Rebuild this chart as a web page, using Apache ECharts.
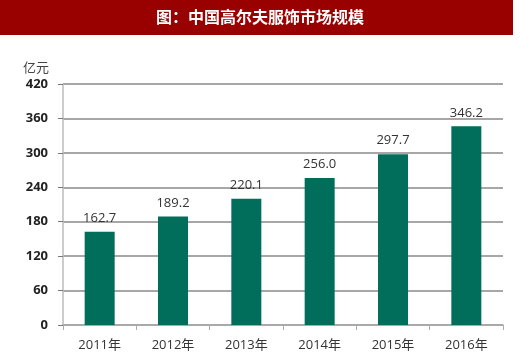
<!DOCTYPE html>
<html><head><meta charset="utf-8">
<script src="https://cdn.jsdelivr.net/npm/echarts@6/dist/echarts.min.js"></script>
<style>html,body{margin:0;padding:0;background:#fff}#c{width:520px;height:362px}</style>
</head><body><div id="c"></div>
<script>
const categories = ['2011年','2012年','2013年','2014年','2015年','2016年'];
const values = [162.7, 189.2, 220.1, 256.0, 297.7, 346.2];
const yTicks = [0, 60, 120, 180, 240, 300, 360, 420];
const titleText = '图：中国高尔夫服饰市场规模';
const unitText = '亿元';

const chart = echarts.init(document.getElementById('c'));
chart.setOption({
  animation: false,
  graphic: [
    {type:'rect', left:0, top:0, shape:{width:513, height:35}, style:{fill:'#990000'}},
    {type:'text', left:'center', top:9, style:{text:titleText, fill:'#fff', font:'bold 16px "Noto Sans CJK SC"'}}
  ],
  grid: {left:63, right:17, top:84, bottom:37},
  xAxis: {
    type:'category', data:categories,
    axisLine:{lineStyle:{color:'#aaa', width:1.5}},
    axisTick:{show:true, lineStyle:{color:'#aaa'}, length:5},
    axisLabel:{color:'#333', fontSize:13, margin:14, fontFamily:'"Open Sans","Noto Sans CJK SC",sans-serif'}
  },
  yAxis: {
    type:'value', min:0, max:420, interval:60,
    name: unitText, nameLocation:'end', nameGap:10,
    nameTextStyle:{color:'#444', fontSize:13, align:'right', padding:[0,14,0,0], fontFamily:'"Noto Sans CJK SC"'},
    axisLine:{show:true, lineStyle:{color:'#bbb', width:1.5}},
    axisTick:{show:true, inside:false, length:5, lineStyle:{color:'#777'}},
    splitLine:{lineStyle:{color:'#8a8a8a', width:1.5}},
    axisLabel:{color:'#222', fontSize:13, fontWeight:'bold', margin:15, fontFamily:'"Open Sans",sans-serif',
      formatter: v => yTicks.includes(v) ? String(v) : ''}
  },
  series: [{
    type:'bar', data:values, barWidth:30,
    itemStyle:{color:'#006E5A'},
    label:{show:true, position:'top', distance:7, color:'#333', fontSize:13, fontFamily:'"Open Sans",sans-serif',
      formatter: p => p.value.toFixed(1)}
  }]
});
</script></body></html>
